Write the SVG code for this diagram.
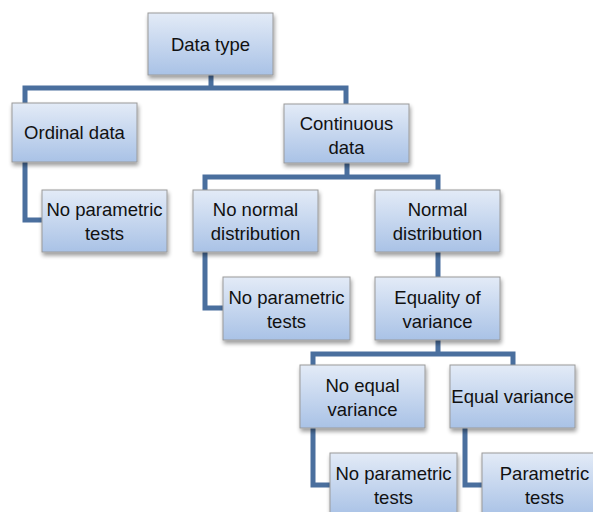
<svg xmlns="http://www.w3.org/2000/svg" width="593" height="512" viewBox="0 0 593 512">
<defs>
<linearGradient id="g" x1="0" y1="0" x2="0" y2="1">
<stop offset="0" stop-color="#e3ebf7"/>
<stop offset="1" stop-color="#a9c2e6"/>
</linearGradient>
<filter id="sh" x="-10%" y="-10%" width="130%" height="140%">
<feGaussianBlur in="SourceAlpha" stdDeviation="2"/>
<feOffset dx="1" dy="3" result="b"/>
<feComponentTransfer><feFuncA type="linear" slope="0.4"/></feComponentTransfer>
<feMerge><feMergeNode/><feMergeNode in="SourceGraphic"/></feMerge>
</filter>
</defs>
<style>
.box{fill:url(#g);stroke:#9a9a9a;stroke-width:1;filter:url(#sh)}
.t{font-family:"Liberation Sans",Arial,sans-serif;font-size:18.5px;fill:#111;text-anchor:middle}
.c{fill:none;stroke:#4a6f9e;stroke-width:5;stroke-linejoin:miter}
</style>
<rect width="593" height="512" fill="#fff"/>
<g id="connectors">
<path class="c" d="M211,75 V88 M25,103 V88 H346 V104"/>
<path class="c" d="M25,162 V220 H42"/>
<path class="c" d="M347,163 V177 M205,190 V177 H438 V190"/>
<path class="c" d="M205,252 V308 H223"/>
<path class="c" d="M438,252 V277"/>
<path class="c" d="M438,340 V354 M313,365 V354 H513 V365"/>
<path class="c" d="M313,428 V485 H330"/>
<path class="c" d="M465,428 V485 H482"/>
</g>
<g id="n-datatype"><rect class="box" x="148" y="13" width="125" height="62"/><text class="t" x="210.5" y="51">Data type</text></g>
<g id="n-ordinal"><rect class="box" x="12" y="103" width="125" height="59"/><text class="t" x="74.5" y="139">Ordinal data</text></g>
<g id="n-noparam1"><rect class="box" x="42" y="190" width="125" height="62"/><text class="t" x="104.5" y="216">No parametric</text><text class="t" x="104.5" y="240">tests</text></g>
<g id="n-continuous"><rect class="box" x="284" y="104" width="125" height="59"/><text class="t" x="346.5" y="130">Continuous</text><text class="t" x="346.5" y="154">data</text></g>
<g id="n-nonormal"><rect class="box" x="193" y="190" width="125" height="62"/><text class="t" x="255.5" y="216">No normal</text><text class="t" x="255.5" y="240">distribution</text></g>
<g id="n-normal"><rect class="box" x="375" y="190" width="125" height="62"/><text class="t" x="437.5" y="216">Normal</text><text class="t" x="437.5" y="240">distribution</text></g>
<g id="n-noparam2"><rect class="box" x="223" y="277" width="127" height="63"/><text class="t" x="286.5" y="304">No parametric</text><text class="t" x="286.5" y="328">tests</text></g>
<g id="n-equality"><rect class="box" x="375" y="277" width="125" height="63"/><text class="t" x="437.5" y="304">Equality of</text><text class="t" x="437.5" y="328">variance</text></g>
<g id="n-noequal"><rect class="box" x="300" y="365" width="125" height="63"/><text class="t" x="362.5" y="392">No equal</text><text class="t" x="362.5" y="416">variance</text></g>
<g id="n-equal"><rect class="box" x="450" y="365" width="125" height="63"/><text class="t" x="512.5" y="403">Equal variance</text></g>
<g id="n-noparam3"><rect class="box" x="330" y="453" width="127" height="63"/><text class="t" x="393.5" y="480">No parametric</text><text class="t" x="393.5" y="504">tests</text></g>
<g id="n-param"><rect class="box" x="482" y="453" width="125" height="63"/><text class="t" x="544.5" y="480">Parametric</text><text class="t" x="544.5" y="504">tests</text></g>
</svg>
